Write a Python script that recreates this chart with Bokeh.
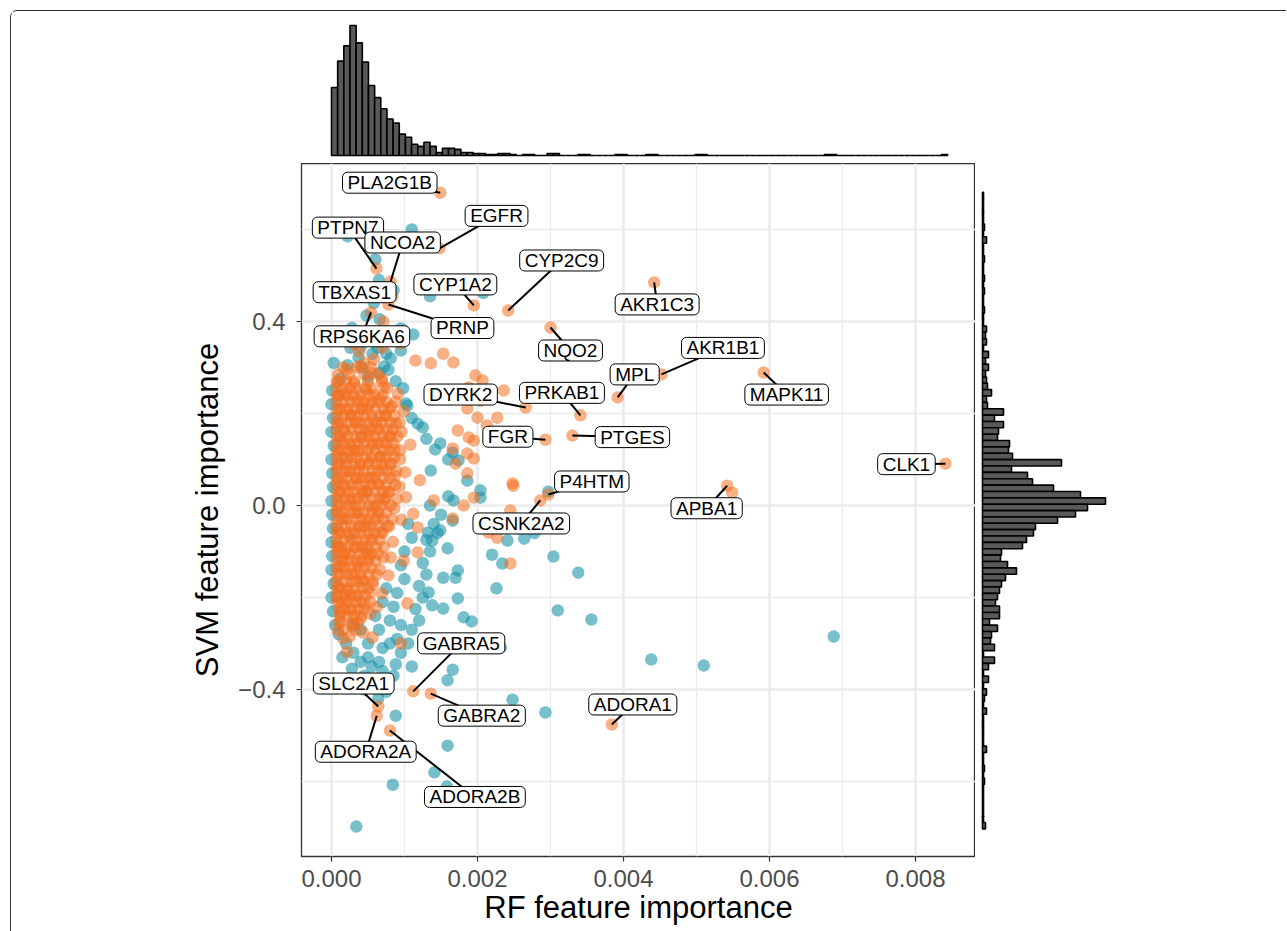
from bokeh.plotting import figure
from bokeh.layouts import column, row
from bokeh.models import Range1d, ColumnDataSource, Spacer, FixedTicker, CustomJSTickFormatter
from bokeh.core.properties import value
from bokeh.embed import file_html
from bokeh.resources import INLINE

# ---------------- data ----------------
teal_rf = [0.00110, 0.00022, 0.00060, 0.00065, 0.00085, 0.00135, 0.00208, 0.00058, 0.00048, 0.00066,
           0.00095, 0.00112, 0.00028, 0.00018, 0.00040, 0.00063, 0.00075, 0.00037, 0.00022, 0.00078,
           0.00072, 0.00066, 0.00050, 0.00088, 0.00012, 0.00098, 0.00102, 0.00110, 0.00125, 0.00130,
           0.00142, 0.00160, 0.00026, 0.00056, 0.00042, 0.00081, 0.00095, 0.00099, 0.00104, 0.00118,
           0.00149, 0.00166, 0.00174, 0.00186, 0.00204, 0.00136,
           0.00000, 0.00002, 0.00000, 0.00003, 0.00000, 0.00001, 0.00002, 0.00000, 0.00001, 0.00002,
           0.00000, 0.00001, 0.00000, 0.00003, 0.00000, 0.00002, 0.00005, 0.00010, 0.00001, 0.00003,
           0.00020, 0.00015, 0.00030, 0.00028, 0.00040, 0.00045, 0.00055, 0.00060, 0.00070, 0.00075,
           0.00085, 0.00088, 0.00095, 0.00090, 0.00105, 0.00110, 0.00120, 0.00115, 0.00125, 0.00120,
           0.00130, 0.00125, 0.00135, 0.00130, 0.00145, 0.00140, 0.00150, 0.00135, 0.00160,
           0.00050, 0.00070, 0.00065, 0.00080, 0.00085, 0.00090, 0.00100, 0.00095, 0.00100, 0.00110,
           0.00105, 0.00060, 0.00070, 0.00075, 0.00040, 0.00030, 0.00080, 0.00095, 0.00110, 0.00065,
           0.00050,
           0.00159, 0.00166, 0.00181, 0.00192, 0.00173, 0.00153, 0.00138, 0.00133, 0.00153, 0.00170,
           0.00173, 0.00159, 0.00226, 0.00220, 0.00234, 0.00241, 0.00264, 0.00304, 0.00338, 0.00310,
           0.00356, 0.00204, 0.00167, 0.00166, 0.00149, 0.00132, 0.00138, 0.00232, 0.00248, 0.00293,
           0.00688, 0.00510, 0.00438, 0.00159, 0.00141, 0.00158, 0.00084, 0.00034, 0.00088, 0.00064,
           0.00045, 0.00075, 0.00297, 0.00256, 0.00278]
teal_svm = [0.600, 0.585, 0.535, 0.490, 0.468, 0.455, 0.462, 0.440, 0.413, 0.405,
            0.385, 0.372, 0.386, 0.362, 0.345, 0.343, 0.330, 0.322, 0.305, 0.295,
            0.302, 0.288, 0.280, 0.270, 0.275, 0.255, 0.222, 0.190, 0.170, 0.145,
            0.122, 0.100, 0.343, 0.330, 0.300, 0.320, 0.337, 0.380, 0.217, 0.178,
            0.135, 0.115, 0.098, 0.054, 0.033, 0.076,
            0.220, 0.190, 0.160, 0.130, 0.100, 0.070, 0.040, 0.010, -0.020, -0.050,
            -0.080, -0.110, -0.140, -0.170, -0.200, -0.230, -0.260, -0.280, 0.250, 0.310,
            -0.300, -0.330, -0.320, -0.355, -0.340, -0.370, -0.350, -0.380, -0.360, -0.390,
            -0.370, -0.345, -0.320, -0.290, -0.300, -0.270, -0.250, -0.225, -0.200, -0.175,
            -0.150, -0.125, -0.100, -0.075, -0.060, -0.040, -0.020, 0.000, 0.020,
            -0.300, -0.310, -0.270, -0.250, -0.220, -0.190, -0.160, -0.130, -0.100, -0.070,
            -0.040, -0.240, -0.210, -0.180, -0.270, -0.260, -0.300, -0.260, -0.350, -0.340,
            -0.330,
            -0.380, -0.357, -0.243, -0.252, -0.202, -0.224, -0.217, -0.189, -0.157, -0.157,
            -0.141, -0.093, -0.180, -0.107, -0.126, -0.076, -0.072, -0.111, -0.146, -0.228,
            -0.248, 0.017, 0.011, -0.033, -0.054, -0.059, -0.076, -0.309, -0.422, -0.450,
            -0.285, -0.348, -0.335, -0.522, -0.580, -0.611, -0.607, -0.698, -0.457, -0.420,
            -0.400, -0.405, 0.030, -0.050, -0.060]

orange_rf = [0.00153, 0.00167, 0.00136, 0.00197, 0.00207, 0.00188, 0.00236, 0.00204, 0.00186, 0.00200,
             0.00227, 0.00213, 0.00173, 0.00188, 0.00195, 0.00166, 0.00186, 0.00195, 0.00170, 0.00186,
             0.00248, 0.00195, 0.00140, 0.00249, 0.00245, 0.00181, 0.00166, 0.00215, 0.00227, 0.00245,
             0.00118, 0.00118, 0.00081, 0.00099, 0.00104, 0.00095, 0.00056, 0.00016, 0.00040, 0.00053,
             0.00012, 0.00026, 0.00053, 0.00008, 0.00022, 0.00016, 0.00036, 0.00010, 0.00049, 0.00071,
             0.00071, 0.00094, 0.00070, 0.00060, 0.00083, 0.00030, 0.00045, 0.00115, 0.00038, 0.00058,
             0.00549,
             0.00021, 0.00039, 0.00054, 0.00069, 0.00008, 0.00031, 0.00048, 0.00072, 0.00091, 0.00009,
             0.00019, 0.00036, 0.00051, 0.00066, 0.00082, 0.00099, 0.00011, 0.00026, 0.00042, 0.00057,
             0.00074, 0.00088, 0.00008, 0.00018, 0.00034, 0.00049, 0.00063, 0.00079, 0.00096, 0.00012,
             0.00027, 0.00041, 0.00056, 0.00071, 0.00086, 0.00108, 0.00009, 0.00021, 0.00036, 0.00052,
             0.00067, 0.00081, 0.00094, 0.00009, 0.00024, 0.00039, 0.00054, 0.00071, 0.00087, 0.00101,
             0.00008, 0.00019, 0.00034, 0.00048, 0.00063, 0.00078, 0.00093, 0.00121, 0.00011, 0.00026,
             0.00042, 0.00057, 0.00072, 0.00086, 0.00102, 0.00008, 0.00017, 0.00033, 0.00049, 0.00064,
             0.00079, 0.00096, 0.00112, 0.00009, 0.00024, 0.00038, 0.00053, 0.00068, 0.00084, 0.00008,
             0.00019, 0.00034, 0.00051, 0.00066, 0.00078, 0.00011, 0.00027, 0.00042, 0.00057, 0.00069,
             0.00009, 0.00019, 0.00033, 0.00046, 0.00062, 0.00011, 0.00028, 0.00043, 0.00021, 0.00009]
orange_svm = [0.330, 0.311, 0.309, 0.283, 0.272, 0.257, 0.250, 0.228, 0.211, 0.191,
              0.191, 0.174, 0.163, 0.148, 0.141, 0.124, 0.113, 0.102, 0.091, 0.070,
              0.048, 0.017, 0.011, 0.043, -0.011, 0.000, -0.028, -0.059, -0.070, -0.126,
              -0.048, -0.102, -0.113, -0.120, -0.213, -0.300, -0.287, -0.289, -0.246, -0.235,
              -0.233, -0.228, -0.190, -0.200, -0.185, -0.120, -0.126, -0.098, -0.098, -0.113,
              0.400, 0.352, 0.343, 0.365, 0.375, 0.350, 0.310, 0.315, 0.335, 0.318,
              0.028,
              0.296, 0.302, 0.288, 0.276, 0.268, 0.265, 0.252, 0.258, 0.243, 0.238,
              0.244, 0.231, 0.219, 0.233, 0.215, 0.205, 0.207, 0.198, 0.211, 0.186,
              0.195, 0.178, 0.176, 0.161, 0.181, 0.158, 0.168, 0.152, 0.160, 0.142,
              0.129, 0.147, 0.131, 0.138, 0.121, 0.132, 0.114, 0.102, 0.118, 0.096,
              0.107, 0.092, 0.101, 0.083, 0.074, 0.088, 0.061, 0.079, 0.064, 0.072,
              0.053, 0.041, 0.058, 0.032, 0.047, 0.029, 0.041, 0.055, 0.021, 0.008,
              0.024, -0.004, 0.012, -0.006, 0.018, -0.012, -0.027, -0.016, -0.038, -0.024,
              -0.045, -0.031, -0.018, -0.052, -0.066, -0.049, -0.072, -0.058, -0.079, -0.087,
              -0.101, -0.091, -0.112, -0.139, -0.152, -0.133, -0.148, -0.161, -0.172, -0.191,
              -0.176, -0.203, -0.197, -0.214, -0.221, -0.252, -0.262, -0.276, -0.318, -0.272]

# dense core of the orange cloud: SVM value of each row, and RF values (in units of 1e-4) on it
core_svm_rows = [0.300, 0.285, 0.270, 0.255, 0.240, 0.225, 0.210, 0.195, 0.180, 0.165,
                 0.150, 0.135, 0.120, 0.105, 0.090, 0.075, 0.060, 0.045, 0.030, 0.015,
                 0.000, -0.015, -0.030, -0.045, -0.060, -0.075, -0.090, -0.105, -0.120, -0.135,
                 -0.150, -0.165, -0.180, -0.195, -0.210, -0.225, -0.240, -0.255, -0.270, -0.285]
core_rf_rows_e4 = [
    [1.6, 3.5, 5.4],
    [0.9, 2.4, 4.5, 6.4],
    [0.8, 2.0, 3.1, 5.0, 6.9],
    [0.7, 1.6, 2.5, 3.4, 4.6, 5.5, 7.6],
    [0.8, 1.2, 2.1, 3.0, 4.0, 5.1, 5.9, 7.0],
    [0.7, 1.7, 2.6, 3.5, 4.4, 5.6, 6.5, 7.5, 8.8],
    [0.8, 1.3, 2.2, 3.1, 4.1, 4.9, 6.0, 7.1, 7.9],
    [0.7, 1.8, 2.7, 3.6, 4.5, 5.5, 6.6, 7.4, 8.6],
    [0.8, 1.4, 2.3, 3.2, 4.0, 5.0, 6.1, 6.9, 8.0, 9.3],
    [0.7, 1.7, 2.8, 3.7, 4.6, 5.4, 6.5, 7.6, 8.4],
    [0.8, 1.2, 2.2, 3.3, 4.1, 5.1, 5.9, 7.0, 8.1, 9.0],
    [0.7, 1.8, 2.6, 3.6, 4.5, 5.6, 6.4, 7.5, 8.5],
    [0.8, 1.3, 2.3, 3.1, 4.2, 5.0, 6.0, 7.1, 7.9, 9.4],
    [0.7, 1.7, 2.7, 3.5, 4.6, 5.5, 6.6, 7.4, 8.6],
    [0.8, 1.2, 2.1, 3.2, 4.0, 5.1, 6.1, 6.9, 8.1],
    [0.7, 1.9, 2.6, 3.7, 4.4, 5.6, 6.4, 7.6, 8.9],
    [0.8, 1.4, 2.2, 3.3, 4.1, 5.0, 5.9, 7.1, 8.0],
    [0.7, 1.7, 2.8, 3.6, 4.6, 5.4, 6.5, 7.5, 8.7],
    [0.8, 1.3, 2.3, 3.1, 4.2, 4.9, 6.0, 7.0, 7.9],
    [0.7, 1.8, 2.7, 3.5, 4.5, 5.6, 6.6, 7.4, 9.0],
    [0.8, 1.2, 2.2, 3.2, 4.0, 5.1, 6.1, 6.9, 8.1],
    [0.7, 1.7, 2.6, 3.6, 4.4, 5.5, 6.4, 7.5],
    [0.8, 1.4, 2.1, 3.3, 4.1, 5.0, 6.0, 7.1, 8.3],
    [0.7, 1.9, 2.7, 3.7, 4.6, 5.4, 6.5, 7.6],
    [0.8, 1.2, 2.3, 3.1, 4.0, 5.1, 5.9, 7.0],
    [0.7, 1.7, 2.8, 3.5, 4.5, 5.6, 6.6],
    [0.8, 1.3, 2.2, 3.2, 4.2, 4.9, 6.1, 7.2],
    [0.7, 1.8, 2.6, 3.6, 4.6, 5.5, 6.4],
    [0.8, 1.4, 2.3, 3.3, 4.1, 5.0, 6.0],
    [0.7, 1.7, 2.7, 3.7, 4.5, 5.4],
    [0.8, 1.2, 2.1, 3.1, 4.0, 5.1, 6.2],
    [0.7, 1.9, 2.8, 3.5, 4.4, 5.6],
    [0.8, 1.3, 2.2, 3.2, 4.2, 5.0],
    [0.7, 1.8, 2.6, 3.6, 4.6],
    [0.9, 1.4, 2.3, 3.3, 4.1, 5.3],
    [1.0, 1.7, 2.7, 3.7, 4.5],
    [1.2, 2.2, 3.1, 4.0],
    [1.1, 2.8, 3.6],
    [1.6, 3.2],
    [2.5],
]

label_genes = ["PLA2G1B", "EGFR", "PTPN7", "NCOA2", "TBXAS1", "PRNP", "RPS6KA6", "CYP1A2",
               "CYP2C9", "NQO2", "AKR1C3", "AKR1B1", "MPL", "MAPK11", "DYRK2", "PRKAB1",
               "FGR", "PTGES", "CLK1", "P4HTM", "CSNK2A2", "APBA1", "GABRA5", "GABRA2",
               "SLC2A1", "ADORA2A", "ADORA2B", "ADORA1"]
label_rf = [0.00149, 0.00148, 0.000616, 0.00081, 0.00083, 0.00078, 0.00054, 0.00195,
            0.00242, 0.00300, 0.00442, 0.00452, 0.00392, 0.00592, 0.00266, 0.00341,
            0.00293, 0.00330, 0.00841, 0.00297, 0.00286, 0.00542, 0.00112, 0.00136,
            0.00064, 0.00062, 0.00080, 0.00384]
label_svm = [0.680, 0.559, 0.515, 0.487, 0.455, 0.437, 0.420, 0.435,
             0.424, 0.387, 0.485, 0.285, 0.235, 0.289, 0.213, 0.196,
             0.143, 0.152, 0.091, 0.024, 0.011, 0.043, -0.404, -0.409,
             -0.437, -0.457, -0.489, -0.476]

# marginal histogram counts (100 bins each)
rf_hist_counts = [67, 93, 108, 128, 111, 92, 69, 57, 46, 36,
                  32, 21, 18, 11, 9, 13, 9, 3, 7, 7,
                  6, 3, 3, 2, 2, 1, 1, 2, 2, 1,
                  0, 1, 1, 0, 0, 2, 2, 0, 0, 0,
                  1, 1, 0, 0, 0, 0, 1, 1, 0, 0,
                  0, 1, 1, 0, 0, 0, 0, 0, 0, 1,
                  1, 0, 0, 0, 0, 0, 0, 0, 0, 0,
                  0, 0, 0, 0, 0, 0, 0, 0, 0, 0,
                  1, 1, 0, 0, 0, 0, 0, 0, 0, 0,
                  0, 0, 0, 0, 0, 0, 0, 0, 0, 1]
# SVM histogram, from the highest bin down to the lowest
svm_hist_counts_desc = [1, 1, 1, 1, 1, 2, 1, 4, 1, 1,
                        2, 1, 1, 2, 1, 2, 1, 1, 2, 1,
                        1, 4, 3, 4, 1, 6, 3, 6, 3, 4,
                        5, 9, 4, 5, 21, 12, 21, 16, 15, 27,
                        26, 30, 79, 29, 45, 50, 71, 98, 123, 105,
                        93, 75, 53, 51, 44, 40, 19, 18, 25, 34,
                        23, 19, 17, 15, 13, 17, 17, 7, 15, 9,
                        8, 12, 1, 12, 6, 1, 6, 1, 4, 2,
                        1, 4, 1, 1, 1, 1, 1, 4, 1, 1,
                        2, 1, 2, 1, 1, 1, 1, 1, 1, 3]
rf_bin_start, rf_bin_width = 0.0, 0.0000844
svm_bin_top, svm_bin_width = 0.681, 0.01384

# label placement (pixel offsets of label centre from its point; +dy = downwards)
label_offsets = {
    "PLA2G1B": (-50.5, -10), "EGFR": (57, -32.5), "PTPN7": (-28.5, -41), "NCOA2": (12, -39),
    "TBXAS1": (-37.5, -4), "PRNP": (74, 23.5), "RPS6KA6": (-9, 24), "CYP1A2": (-18.5, -21),
    "CYP2C9": (53.5, -50), "NQO2": (20, 23), "AKR1C3": (3, 22), "AKR1B1": (61.5, -26.5),
    "MPL": (17, -23), "MAPK11": (23, 22), "DYRK2": (-65, -13), "PRKAB1": (-18.5, -22.5),
    "FGR": (-37.5, -3), "PTGES": (60, 1.5), "CLK1": (-39, 0.5), "P4HTM": (43.5, -13),
    "CSNK2A2": (-19, 23), "APBA1": (-20.5, 22.5), "GABRA5": (48, -48), "GABRA2": (51, 22),
    "SLC2A1": (-24.5, -23), "ADORA2A": (-11, 36), "ADORA2B": (85, 66.5), "ADORA1": (21, -20),
}

# ---------------- layout constants ----------------
FONT = "Liberation Sans"
TEAL = "#1B94A8"
ORANGE = "#F37021"
MAIN_W, MAIN_H = 964, 768
LEFT_B, BOTTOM_B = 290, 75
TOP_H = 152
RIGHT_W = 311

x0, x1 = -0.000411, 0.008822
y0, y1 = -0.763, 0.7435
xr = Range1d(x0, x1)
yr = Range1d(y0, y1)
frame_w = MAIN_W - LEFT_B
frame_h = MAIN_H - BOTTOM_B
px_x = frame_w / (x1 - x0)
px_y = frame_h / (y1 - y0)

core_rf = [v * 1e-4 for row_vals in core_rf_rows_e4 for v in row_vals]
core_svm = [s for s, row_vals in zip(core_svm_rows, core_rf_rows_e4) for _ in row_vals]

# ---------------- main scatter ----------------
p = figure(width=MAIN_W, height=MAIN_H, x_range=xr, y_range=yr, output_backend="svg",
           toolbar_location=None, min_border_left=LEFT_B, min_border_right=0,
           min_border_top=0, min_border_bottom=BOTTOM_B)
p.outline_line_color = "#333333"
p.outline_line_width = 1.3
p.background_fill_color = "white"

p.xaxis.ticker = FixedTicker(ticks=[0, 0.002, 0.004, 0.006, 0.008],
                             minor_ticks=[0.001, 0.003, 0.005, 0.007])
p.yaxis.ticker = FixedTicker(ticks=[-0.4, 0.0, 0.4], minor_ticks=[-0.6, -0.2, 0.2, 0.6])
p.xaxis.formatter = CustomJSTickFormatter(code="return tick.toFixed(3);")
p.yaxis.formatter = CustomJSTickFormatter(
    code="return (tick < -1e-9 ? '\u2212' : '') + Math.abs(tick).toFixed(1);")
for ax in (p.xaxis, p.yaxis):
    ax.axis_line_color = None
    ax.major_tick_line_color = "#333333"
    ax.major_tick_line_width = 1.2
    ax.major_tick_out = 5
    ax.major_tick_in = 0
    ax.minor_tick_line_color = None
    ax.major_label_text_font = FONT
    ax.major_label_text_font_size = "24px"
    ax.major_label_text_color = "#4D4D4D"
    ax.axis_label_text_font = FONT
    ax.axis_label_text_font_style = "normal"
    ax.axis_label_text_color = "black"
p.xaxis.axis_label = "RF feature importance"
p.xaxis.axis_label_text_font_size = "31px"
p.xaxis.major_label_standoff = 8
p.xaxis.axis_label_standoff = 0
p.yaxis.axis_label = "SVM feature importance"
p.yaxis.axis_label_text_font_size = "31px"
p.yaxis.major_label_standoff = 11
p.yaxis.axis_label_standoff = 10

for g in (p.xgrid, p.ygrid):
    g.grid_line_color = "#EBEBEB"
    g.grid_line_width = 2.6
    g.minor_grid_line_color = "#EBEBEB"
    g.minor_grid_line_width = 1.3

p.scatter(teal_rf, teal_svm, size=12.5, fill_color=TEAL, fill_alpha=0.6, line_color=None)
p.scatter(core_rf, core_svm, size=12.5, fill_color=ORANGE, fill_alpha=0.55, line_color=None)
p.scatter(orange_rf, orange_svm, size=12.5, fill_color=ORANGE, fill_alpha=0.55, line_color=None)
p.scatter(label_rf, label_svm, size=12.5, fill_color=ORANGE, fill_alpha=0.55, line_color=None)

lx = [x + label_offsets[g][0] / px_x for g, x in zip(label_genes, label_rf)]
ly = [y - label_offsets[g][1] / px_y for g, y in zip(label_genes, label_svm)]
lab_src = ColumnDataSource(dict(x=label_rf, y=label_svm, lx=lx, ly=ly, gene=label_genes))
p.segment(x0="x", y0="y", x1="lx", y1="ly", source=lab_src, line_color="black", line_width=2)
p.text(x="lx", y="ly", text="gene", source=lab_src, text_align="center", text_baseline="middle",
       text_font=value(FONT), text_font_size="19px", text_color="black",
       background_fill_color="white", border_line_color="black", border_line_width=1,
       padding=(5, 0), border_radius=5)

# ---------------- top marginal histogram ----------------
pt = figure(width=MAIN_W, height=TOP_H, x_range=xr, y_range=Range1d(-2, 133),
            output_backend="svg", toolbar_location=None, min_border_left=LEFT_B,
            min_border_right=0, min_border_top=9, min_border_bottom=6)
pt.axis.visible = False
pt.grid.visible = False
pt.outline_line_color = None
rf_left = [rf_bin_start + i * rf_bin_width for i in range(len(rf_hist_counts))]
rf_right = [l + rf_bin_width for l in rf_left]
pt.quad(left=rf_left, right=rf_right, bottom=0, top=rf_hist_counts,
        fill_color="#595959", line_color="black", line_width=1.6)

# ---------------- right marginal histogram ----------------
pr = figure(width=RIGHT_W, height=MAIN_H, x_range=Range1d(-7, 133), y_range=yr,
            output_backend="svg", toolbar_location=None, min_border_left=0,
            min_border_right=RIGHT_W - 140, min_border_top=0, min_border_bottom=BOTTOM_B)
pr.axis.visible = False
pr.grid.visible = False
pr.outline_line_color = None
svm_top = [svm_bin_top - i * svm_bin_width for i in range(len(svm_hist_counts_desc))]
svm_bot = [t - svm_bin_width for t in svm_top]
pr.quad(left=0, right=svm_hist_counts_desc, bottom=svm_bot, top=svm_top,
        fill_color="#595959", line_color="black", line_width=1.6)

spacer = Spacer(width=RIGHT_W, height=TOP_H)
layout = column(row(pt, spacer), row(p, pr), margin=(10, 0, 0, 10),
                styles={"border-top": "1px solid #333333", "border-left": "1px solid #333333",
                        "border-top-left-radius": "7px"})

open("out.html", "w").write(file_html(layout, INLINE))
